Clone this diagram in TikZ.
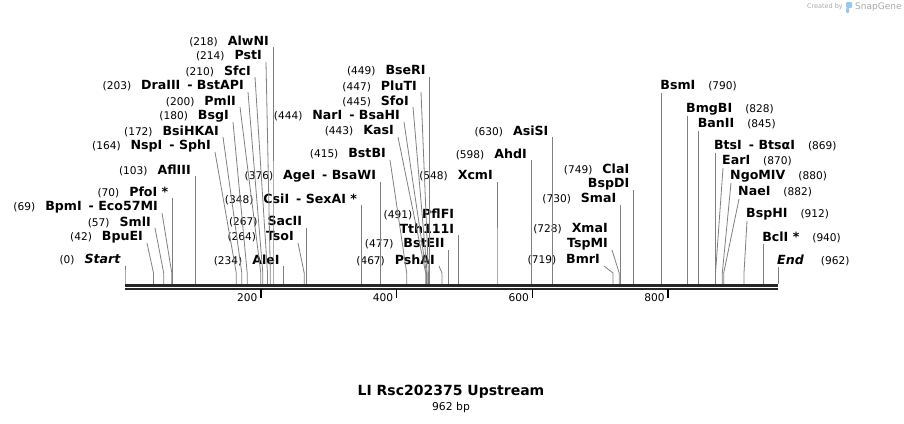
\documentclass[tikz,border=0pt]{standalone}
\usepackage{fontspec}
\setmainfont{DejaVu Sans}
\usetikzlibrary{calc}

\definecolor{leadergray}{RGB}{128,128,128}
\definecolor{logogray}{RGB}{170,170,170}
\definecolor{logoblue}{RGB}{150,200,235}

\newcommand{\cutpos}[1]{{\mdseries\fontsize{10.6}{12}\selectfont(#1)}}

\tikzset{
  enz/.style={inner sep=0pt,font=\fontsize{12.6}{14}\selectfont\bfseries},
  lbl/.style={enz,anchor=east},
  rbl/.style={enz,anchor=west},
  leader/.style={draw=leadergray,line width=0.8pt},
}

\begin{document}
\begin{tikzpicture}[x=1pt,y=-1pt]

      \useasboundingbox (0,0) rectangle (904,423);

      % logo
      \node[inner sep=0pt,anchor=east,font=\fontsize{6.5}{8}\selectfont,text=logogray] (created) at (843,7) {Created by};
      \fill[logoblue,rounded corners=1pt] (846,2) rectangle (852,8) (846,8) rectangle (849,13);
      \node[inner sep=0pt,anchor=west,font=\fontsize{9}{10}\selectfont,text=logogray] (snapgene) at (855,7) {SnapGene};

      % cut sites on the ruler
      \coordinate (c0)   at (125,284);
      \coordinate (c42)  at (153.5,284);
      \coordinate (c57)  at (163.7,284);
      \coordinate (c69)  at (171.8,284);
      \coordinate (c70)  at (172.5,284);
      \coordinate (c103) at (194.9,284);
      \coordinate (c164) at (236.3,284);
      \coordinate (c172) at (241.8,284);
      \coordinate (c180) at (247.2,284);
      \coordinate (c200) at (260.8,284);
      \coordinate (c203) at (262.8,284);
      \coordinate (c210) at (267.5,284);
      \coordinate (c214) at (270.3,284);
      \coordinate (c218) at (273.0,284);
      \coordinate (c234) at (283.8,284);
      \coordinate (c264) at (304.2,284);
      \coordinate (c267) at (306.2,284);
      \coordinate (c348) at (361.2,284);
      \coordinate (c376) at (380.2,284);
      \coordinate (c415) at (406.7,284);
      \coordinate (c443) at (425.7,284);
      \coordinate (c444) at (426.4,284);
      \coordinate (c445) at (427.1,284);
      \coordinate (c447) at (428.4,284);
      \coordinate (c449) at (429.8,284);
      \coordinate (c467) at (442.0,284);
      \coordinate (c477) at (448.8,284);
      \coordinate (c491) at (458.3,284);
      \coordinate (c548) at (497.0,284);
      \coordinate (c598) at (530.9,284);
      \coordinate (c630) at (552.6,284);
      \coordinate (c719) at (613.0,284);
      \coordinate (c728) at (619.2,284);
      \coordinate (c730) at (620.5,284);
      \coordinate (c749) at (633.4,284);
      \coordinate (c790) at (661.2,284);
      \coordinate (c828) at (687.0,284);
      \coordinate (c845) at (698.6,284);
      \coordinate (c869) at (714.9,284);
      \coordinate (c870) at (715.5,284);
      \coordinate (c880) at (722.3,284);
      \coordinate (c882) at (723.7,284);
      \coordinate (c912) at (744.0,284);
      \coordinate (c940) at (763.1,284);
      \coordinate (c962) at (778,284);

      % labels left of their lines
      \begin{scope}[every node/.style={lbl}]
        \node (alwni)   at (269,41)    {\cutpos{218}\hspace{10pt}AlwNI};
        \node (psti)    at (262,56)    {\cutpos{214}\hspace{10pt}PstI};
        \node (sfci)    at (251,71)    {\cutpos{210}\hspace{10pt}SfcI};
        \node (draiii)  at (244,86)    {\cutpos{203}\hspace{10pt}DraIII\hspace{7pt}- BstAPI};
        \node (pmli)    at (236,101)   {\cutpos{200}\hspace{10pt}PmlI};
        \node (bsgi)    at (229,116)   {\cutpos{180}\hspace{10pt}BsgI};
        \node (bsihkai) at (219,131)   {\cutpos{172}\hspace{10pt}BsiHKAI};
        \node (nspi)    at (211,146)   {\cutpos{164}\hspace{10pt}NspI\hspace{7pt}- SphI};
        \node (afliii)  at (190.9,170) {\cutpos{103}\hspace{10pt}AflIII};
        \node (pfoi)    at (168.5,192) {\cutpos{70}\hspace{10pt}PfoI *};
        \node (bpmi)    at (158,207)   {\cutpos{69}\hspace{10pt}BpmI\hspace{7pt}- Eco57MI};
        \node (smli)    at (151,222)   {\cutpos{57}\hspace{10pt}SmlI};
        \node (bpuei)   at (143,237)   {\cutpos{42}\hspace{10pt}BpuEI};
        \node (start)   at (121,260)   {\cutpos{0}\hspace{10pt}\textit{Start}};
        \node (alei)    at (279.8,260) {\cutpos{234}\hspace{10pt}AleI};
        \node (tsoi)    at (294,237)   {\cutpos{264}\hspace{10pt}TsoI};
        \node (sacii)   at (302.2,222) {\cutpos{267}\hspace{10pt}SacII};
        \node (csii)    at (357.2,199) {\cutpos{348}\hspace{10pt}CsiI\hspace{7pt}- SexAI *};
        \node (agei)    at (376.2,176) {\cutpos{376}\hspace{10pt}AgeI\hspace{7pt}- BsaWI};
        \node (bstbi)   at (386,154)   {\cutpos{415}\hspace{10pt}BstBI};
        \node (kasi)    at (394,131)   {\cutpos{443}\hspace{10pt}KasI};
        \node (nari)    at (400,116)   {\cutpos{444}\hspace{10pt}NarI\hspace{7pt}- BsaHI};
        \node (sfoi)    at (409,101)   {\cutpos{445}\hspace{10pt}SfoI};
        \node (pluti)   at (417,86)    {\cutpos{447}\hspace{10pt}PluTI};
        \node (bseri)   at (425.8,71)  {\cutpos{449}\hspace{10pt}BseRI};
        \node (pflfi)   at (454.3,214) {\cutpos{491}\hspace{10pt}PflFI};
        \node (tth111i) at (454.3,229) {Tth111I};
        \node (bsteii)  at (444.8,244) {\cutpos{477}\hspace{10pt}BstEII};
        \node (pshai)   at (435,260)   {\cutpos{467}\hspace{10pt}PshAI};
        \node (xcmi)    at (493,176)   {\cutpos{548}\hspace{10pt}XcmI};
        \node (ahdi)    at (526.9,154) {\cutpos{598}\hspace{10pt}AhdI};
        \node (asisi)   at (548.6,131) {\cutpos{630}\hspace{10pt}AsiSI};
        \node (clai)    at (629.4,169) {\cutpos{749}\hspace{10pt}ClaI};
        \node (bspdi)   at (629.4,184) {BspDI};
        \node (smai)    at (616.5,199) {\cutpos{730}\hspace{10pt}SmaI};
        \node (xmai)    at (608,229)   {\cutpos{728}\hspace{10pt}XmaI};
        \node (tspmi)   at (608,244)   {TspMI};
        \node (bmri)    at (600,260)   {\cutpos{719}\hspace{10pt}BmrI};
      \end{scope}

      % labels right of their lines
      \begin{scope}[every node/.style={rbl}]
        \node (bsmi)    at (660.2,86)  {BsmI\hspace{13pt}\cutpos{790}};
        \node (bmgbi)   at (686,109)   {BmgBI\hspace{13pt}\cutpos{828}};
        \node (banii)   at (697.6,124) {BanII\hspace{13pt}\cutpos{845}};
        \node (btsi)    at (713.9,146) {BtsI\hspace{7pt}- BtsαI\hspace{13pt}\cutpos{869}};
        \node (eari)    at (722,161)   {EarI\hspace{13pt}\cutpos{870}};
        \node (ngomiv)  at (730,176)   {NgoMIV\hspace{13pt}\cutpos{880}};
        \node (naei)    at (738,192)   {NaeI\hspace{13pt}\cutpos{882}};
        \node (bsphi)   at (746,214)   {BspHI\hspace{13pt}\cutpos{912}};
        \node (bcli)    at (762.1,237) {BclI *\hspace{13pt}\cutpos{940}};
        \node (end)     at (777,260)   {\textit{End}\hspace{17pt}\cutpos{962}};
      \end{scope}

      % leaders
      \begin{scope}[every path/.style={leader}]
        \draw (c0)   -- ++(0,-11) -- ($(start.east)+(4,6)$);
        \draw (c42)  -- ++(0,-11) -- ($(bpuei.east)+(4,6)$);
        \draw (c57)  -- ++(0,-11) -- ($(smli.east)+(4,6)$);
        \draw (c69)  -- ++(0,-11) -- ($(bpmi.east)+(4,6)$);
        \draw (c70)  -- ++(0,-11) -- ($(pfoi.east)+(4,6)$);
        \draw (c103) -- ++(0,-11) -- ($(afliii.east)+(4,6)$);
        \draw (c164) -- ++(0,-11) -- ($(nspi.east)+(4,6)$);
        \draw (c172) -- ++(0,-11) -- ($(bsihkai.east)+(4,6)$);
        \draw (c180) -- ++(0,-11) -- ($(bsgi.east)+(4,6)$);
        \draw (c200) -- ++(0,-11) -- ($(pmli.east)+(4,6)$);
        \draw (c203) -- ++(0,-11) -- ($(draiii.east)+(4,6)$);
        \draw (c210) -- ++(0,-11) -- ($(sfci.east)+(4,6)$);
        \draw (c214) -- ++(0,-11) -- ($(psti.east)+(4,6)$);
        \draw (c218) -- ++(0,-11) -- ($(alwni.east)+(4,6)$);
        \draw (c234) -- ++(0,-11) -- ($(alei.east)+(4,6)$);
        \draw (c264) -- ++(0,-11) -- ($(tsoi.east)+(4,6)$);
        \draw (c267) -- ++(0,-11) -- ($(sacii.east)+(4,6)$);
        \draw (c348) -- ++(0,-11) -- ($(csii.east)+(4,6)$);
        \draw (c376) -- ++(0,-11) -- ($(agei.east)+(4,6)$);
        \draw (c415) -- ++(0,-11) -- ($(bstbi.east)+(4,6)$);
        \draw (c443) -- ++(0,-11) -- ($(kasi.east)+(4,6)$);
        \draw (c444) -- ++(0,-11) -- ($(nari.east)+(4,6)$);
        \draw (c445) -- ++(0,-11) -- ($(sfoi.east)+(4,6)$);
        \draw (c447) -- ++(0,-11) -- ($(pluti.east)+(4,6)$);
        \draw (c449) -- ++(0,-11) -- ($(bseri.east)+(4,6)$);
        \draw (c467) -- ++(0,-11) -- ($(pshai.east)+(4,6)$);
        \draw (c477) -- ++(0,-11) -- ($(bsteii.east)+(4,6)$);
        \draw (c491) -- ++(0,-11) -- ($(tth111i.east)+(4,6)$);
        \draw (c548) -- ++(0,-11) -- ($(xcmi.east)+(4,6)$);
        \draw (c598) -- ++(0,-11) -- ($(ahdi.east)+(4,6)$);
        \draw (c630) -- ++(0,-11) -- ($(asisi.east)+(4,6)$);
        \draw (c719) -- ++(0,-11) -- ($(bmri.east)+(4,6)$);
        \draw (c728) -- ++(0,-11) -- ($(tspmi.east)+(4,6)$);
        \draw (c730) -- ++(0,-11) -- ($(smai.east)+(4,6)$);
        \draw (c749) -- ++(0,-11) -- ($(bspdi.east)+(4,6)$);
        \draw (c790) -- ++(0,-11) -- ($(bsmi.west)+(1,7)$);
        \draw (c828) -- ++(0,-11) -- ($(bmgbi.west)+(1,7)$);
        \draw (c845) -- ++(0,-11) -- ($(banii.west)+(1,7)$);
        \draw (c869) -- ++(0,-11) -- ($(btsi.west)+(1,7)$);
        \draw (c870) -- ++(0,-11) -- ($(eari.west)+(1,7)$);
        \draw (c880) -- ++(0,-11) -- ($(ngomiv.west)+(1,7)$);
        \draw (c882) -- ++(0,-11) -- ($(naei.west)+(1,7)$);
        \draw (c912) -- ++(0,-11) -- ($(bsphi.west)+(1,7)$);
        \draw (c940) -- ++(0,-11) -- ($(bcli.west)+(1,7)$);
        \draw (c962) -- ++(0,-11) -- ($(end.west)+(1,7)$);
      \end{scope}

      % ruler
      \draw[line width=3pt,black!85] (c0) ++(0,1.5) -- (778,285.5);
      \draw[line width=2.2pt,black!85] (125,289.3) -- (778,289.3);

      \begin{scope}[every node/.style={inner sep=0pt,anchor=east,font=\fontsize{10.6}{12}\selectfont}]
        \draw[line width=1.6pt] (260.8,289) -- (260.8,298);
        \draw[line width=1.6pt] (396.5,289) -- (396.5,298);
        \draw[line width=1.6pt] (532.3,289) -- (532.3,298);
        \draw[line width=1.6pt] (668.1,289) -- (668.1,298);
        \node (l200) at (257.5,297.5) {200};
        \node (l400) at (393.2,297.5) {400};
        \node (l600) at (529.0,297.5) {600};
        \node (l800) at (664.8,297.5) {800};
      \end{scope}

      % title
      \node[inner sep=0pt,font=\fontsize{14}{16}\selectfont\bfseries] (title) at (451,392) {LI Rsc202375 Upstream};
      \node[inner sep=0pt,font=\fontsize{10.8}{12}\selectfont] (size) at (451,407.5) {962 bp};

    \end{tikzpicture}
\end{document}
